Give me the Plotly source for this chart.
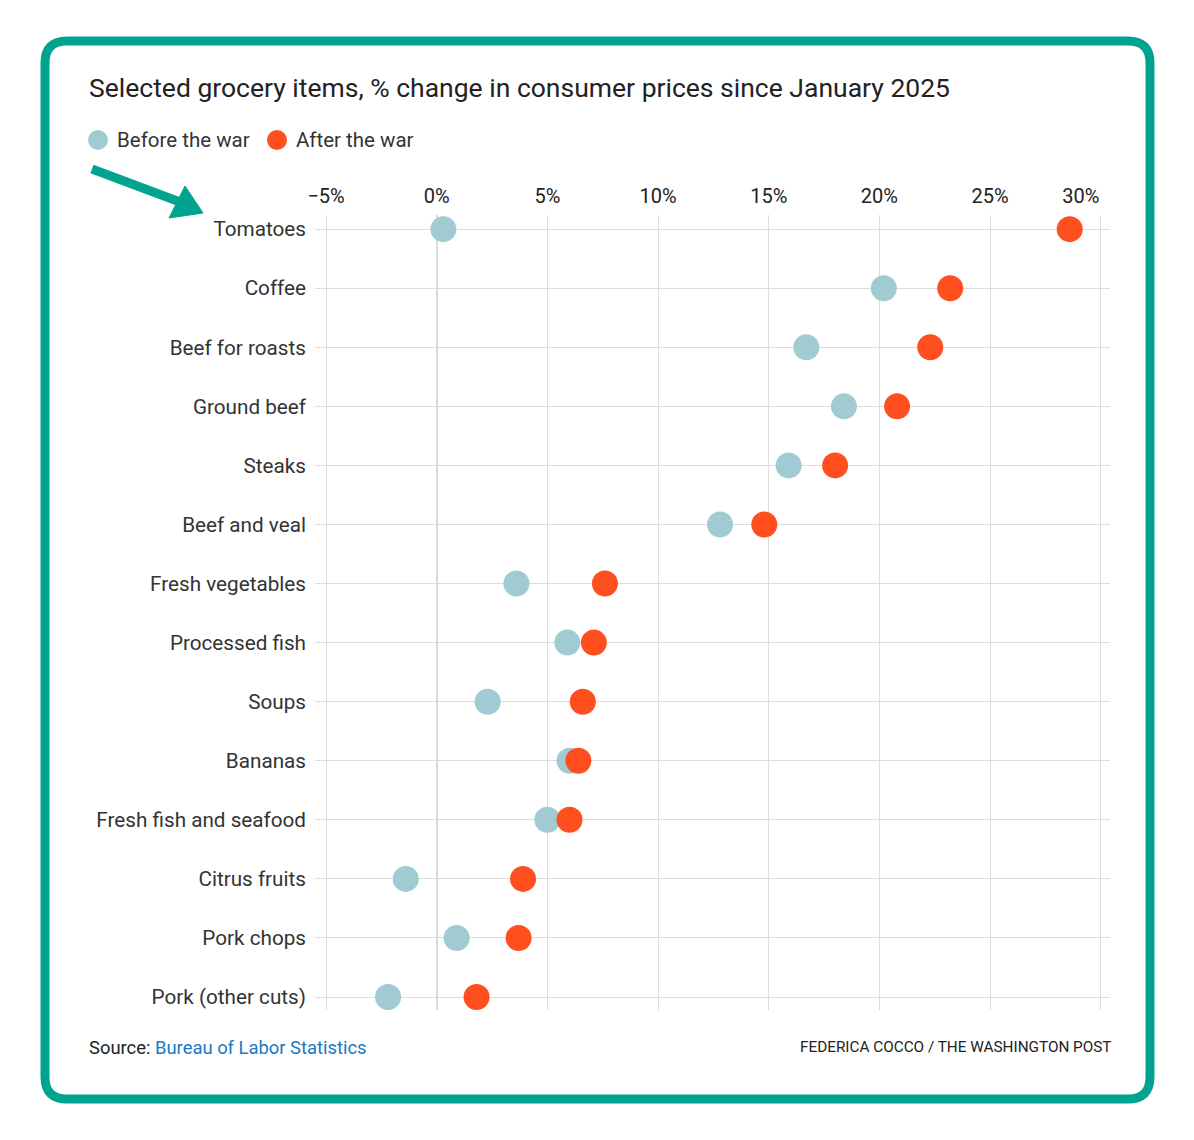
import plotly.graph_objects as go

items = ["Tomatoes", "Coffee", "Beef for roasts", "Ground beef", "Steaks", "Beef and veal",
         "Fresh vegetables", "Processed fish", "Soups", "Bananas", "Fresh fish and seafood",
         "Citrus fruits", "Pork chops", "Pork (other cuts)"]
before_war = [0.3, 20.2, 16.7, 18.4, 15.9, 12.8, 3.6, 5.9, 2.3, 6.0, 5.0, -1.4, 0.9, -2.2]
after_war = [28.6, 23.2, 22.3, 20.8, 18.0, 14.8, 7.6, 7.1, 6.6, 6.4, 6.0, 3.9, 3.7, 1.8]
tick_vals = [-5, 0, 5, 10, 15, 20, 25, 30]
tick_text = ["\u22125%", "0%", "5%", "10%", "15%", "20%", "25%", "30%"]
series_names = ["Before the war", "After the war"]
series_colors = ["#a0cbd2", "#ff4f1f"]

# page is drawn with an 8px body margin
OFF = 8
W, H = 1194 - 2 * OFF, 1140 - 2 * OFF
L, R, T, B = 315, 1110, 215, 1010   # plot area in page pixels
TEAL = "#00a38e"
FONT = "Roboto"


def px(x):
    return (x - L) / (R - L)


def py(y):
    return (B - y) / (B - T)


fig = go.Figure()
for name, vals, col in zip(series_names, [before_war, after_war], series_colors):
    fig.add_trace(go.Scatter(x=vals, y=items, mode="markers", name=name, showlegend=False,
                             marker=dict(color=col, size=26, line=dict(width=0))))

# rounded frame
x0, y0, x1, y1, r = px(45), py(41), px(1150), py(1099), 22
rx, ry = r / (R - L), r / (B - T)
frame = (f"M {x0+rx},{y0} L {x1-rx},{y0} Q {x1},{y0} {x1},{y0-ry} "
         f"L {x1},{y1+ry} Q {x1},{y1} {x1-rx},{y1} L {x0+rx},{y1} "
         f"Q {x0},{y1} {x0},{y1+ry} L {x0},{y0-ry} Q {x0},{y0} {x0+rx},{y0} Z")

shapes = [
    dict(type="path", xref="paper", yref="paper", path=frame,
         line=dict(color=TEAL, width=9), layer="below"),
    # zero line, above the grid but under the dots
    dict(type="line", xref="x", yref="paper", x0=0, x1=0, y0=0, y1=1,
         line=dict(color="#a8a8a8", width=1.4), layer="between"),
    # arrow shaft
    dict(type="line", xref="paper", yref="paper", x0=px(92), y0=py(169), x1=px(180), y1=py(202),
         line=dict(color=TEAL, width=9)),
    # arrow head
    dict(type="path", xref="paper", yref="paper",
         path=f"M {px(203)},{py(213)} L {px(169)},{py(218)} L {px(185)},{py(186)} Z",
         fillcolor=TEAL, line=dict(color=TEAL, width=1)),
]

annotations = [
    dict(text="Selected grocery items, % change in consumer prices since January 2025",
         xref="paper", yref="paper", x=px(87), y=py(87), xanchor="left", yanchor="middle",
         showarrow=False, font=dict(family=FONT, size=26.5, color="#222222")),
    dict(text="Source: <span style='color:#1779c4'>Bureau of Labor Statistics</span>",
         xref="paper", yref="paper", x=px(87), y=py(1047), xanchor="left", yanchor="middle",
         showarrow=False, font=dict(family=FONT, size=18.4, color="#222222")),
    dict(text="FEDERICA COCCO / THE WASHINGTON POST",
         xref="paper", yref="paper", x=px(1114), y=py(1047), xanchor="right", yanchor="middle",
         showarrow=False, font=dict(family=FONT, size=15.3, color="#222222")),
]

# legend: dots and labels
legend_dot_x = [98, 277]
for name, col, lx in zip(series_names, series_colors, legend_dot_x):
    shapes.append(dict(type="circle", xref="paper", yref="paper", xsizemode="pixel",
                       ysizemode="pixel", xanchor=px(lx), yanchor=py(140),
                       x0=-10, x1=10, y0=-10, y1=10,
                       fillcolor=col, line=dict(width=0)))
    annotations.append(dict(text=name, xref="paper", yref="paper", x=px(lx + 17), y=py(140),
                            xanchor="left", yanchor="middle", showarrow=False,
                            font=dict(family=FONT, size=20.5, color="#333333")))

# last tick label sits flush with its gridline, as in the original
tick_labels = tick_text[:-1] + [tick_text[-1] + "\u00a0" * 8]

fig.update_layout(
    width=W, height=H,
    margin=dict(l=L - OFF, r=W + OFF - R, t=T - OFF, b=H + OFF - B),
    paper_bgcolor="white", plot_bgcolor="white",
    showlegend=False,
    xaxis=dict(side="top", range=[-5.5, 30.42], tickvals=tick_vals, ticktext=tick_labels,
               showgrid=True, gridcolor="#dddddd", gridwidth=1, zeroline=False,
               showline=False, ticks="", ticklabelstandoff=7,
               tickfont=dict(family=FONT, size=20, color="#222222"), fixedrange=True),
    yaxis=dict(categoryorder="array", categoryarray=items, autorange=False,
               range=[13.22, -0.24], showgrid=True, gridcolor="#dddddd", gridwidth=1,
               zeroline=False, showline=False, ticks="", ticklabelstandoff=8,
               tickfont=dict(family=FONT, size=20.7, color="#333333"), fixedrange=True),
    shapes=shapes,
    annotations=annotations,
)

fig.write_html("out.html")
